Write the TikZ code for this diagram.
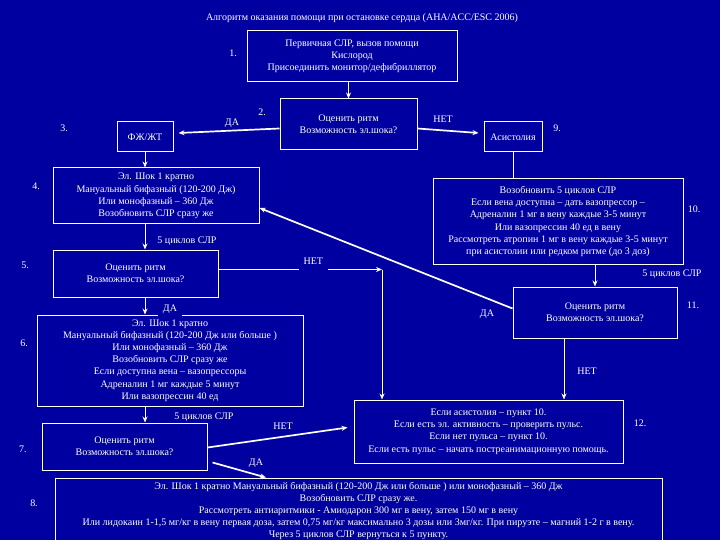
\documentclass[tikz,border=0pt]{standalone}
\usepackage{fontspec}
\setmainfont{Liberation Serif}
\usetikzlibrary{arrows.meta}
\definecolor{bg}{RGB}{0,0,160}
\begin{document}
\begin{tikzpicture}[x=1pt,y=-1pt,
  box/.style={draw=white, line width=1pt, text=white, align=center,
    font=\fontsize{10}{12.2}\selectfont, inner sep=0pt},
  lbl/.style={text=white, font=\fontsize{10}{12}\selectfont, inner sep=1pt},
  arr/.style={draw=white, line width=1pt, -{Stealth[length=6pt,width=5pt]}},
  arrw/.style={arr, line width=1.7pt},
  ln/.style={draw=white, line width=1pt}]
\fill[bg] (0,0) rectangle (720,540);
\useasboundingbox (0,0) rectangle (720,540);

\node[lbl] (title) at (362,18) {Алгоритм оказания помощи при остановке сердца (AHA/ACC/ESC 2006)};

% boxes
\node[box, minimum width=210pt, minimum height=51pt] (b1) at (352,56.5)
  {Первичная СЛР, вызов помощи\\Кислород\\Присоединить монитор/дефибриллятор};
\node[box, minimum width=137pt, minimum height=51pt] (b2) at (348.5,124.5)
  {Оценить ритм\\Возможность эл.шока?};
\node[box, minimum width=56pt, minimum height=30pt] (b3) at (145,137) {ФЖ/ЖТ};
\node[box, minimum width=58pt, minimum height=30pt] (b9) at (513,137) {Асистолия};
\node[box, minimum width=206pt, minimum height=56pt] (b4) at (156,196)
  {Эл. Шок 1 кратно\\Мануальный бифазный (120-200 Дж)\\Или монофазный – 360 Дж\\Возобновить СЛР сразу же};
\node[box, minimum width=250pt, minimum height=85pt] (b10) at (558,221.5)
  {Возобновить 5 циклов СЛР\\Если вена доступна – дать вазопрессор –\\Адреналин 1 мг в вену каждые 3-5 минут\\Или вазопрессин 40 ед в вену\\Рассмотреть атропин 1 мг в вену каждые 3-5 минут\\при асистолии или редком ритме (до 3 доз)};
\node[box, minimum width=165pt, minimum height=47pt] (b5) at (135.5,273.5)
  {Оценить ритм\\Возможность эл.шока?};
\node[box, minimum width=164pt, minimum height=51pt] (b11) at (595,312.5)
  {Оценить ритм\\Возможность эл.шока?};
\node[box, minimum width=266pt, minimum height=91pt] (b6) at (170,360.5)
  {Эл. Шок 1 кратно\\Мануальный бифазный (120-200 Дж или больше )\\Или монофазный – 360 Дж\\Возобновить СЛР сразу же\\Если доступна вена – вазопрессоры\\Адреналин 1 мг каждые 5 минут\\Или вазопрессин 40 ед};
\node[box, minimum width=165pt, minimum height=47pt] (b7) at (124.5,446.5)
  {Оценить ритм\\Возможность эл.шока?};
\node[box, minimum width=269pt, minimum height=63pt] (b12) at (488.5,431.5)
  {Если асистолия – пункт 10.\\Если есть эл. активность – проверить пульс.\\Если нет пульса – пункт 10.\\Если есть пульс – начать постреанимационную помощь.};
\node[box, minimum width=607pt, minimum height=66pt, font=\fontsize{10}{11.8}\selectfont] (b8) at (358.5,511)
  {Эл. Шок 1 кратно Мануальный бифазный (120-200 Дж или больше ) или монофазный – 360 Дж\\Возобновить СЛР сразу же.\\Рассмотреть антиаритмики - Амиодарон 300 мг в вену, затем 150 мг в вену\\Или лидокаин 1-1,5 мг/кг в вену первая доза, затем 0,75 мг/кг максимально 3 дозы или 3мг/кг. При пируэте – магний 1-2 г в вену.\\Через 5 циклов СЛР вернуться к 5 пункту.};

% step numbers
\node[lbl] (n1) at (233,53) {1.};
\node[lbl] (n2) at (262,112) {2.};
\node[lbl] (n3) at (64,128) {3.};
\node[lbl] (n4) at (36,186) {4.};
\node[lbl] (n5) at (25,265) {5.};
\node[lbl] (n6) at (24,343) {6.};
\node[lbl] (n7) at (23,449) {7.};
\node[lbl] (n8) at (34,503) {8.};
\node[lbl] (n9) at (557,128) {9.};
\node[lbl] (n10) at (694,209) {10.};
\node[lbl] (n11) at (693,305) {11.};
\node[lbl] (n12) at (640,423) {12.};

% helper coordinates
\coordinate (cx12) at (564,0);
\coordinate (corner) at (382,269.5);
\coordinate (da8) at (266,0);

% connectors
\draw[arr] (b1.south -| b2.north) -- (b2.north);
\draw[arrw] ([yshift=-4pt]b2.west) -- ([yshift=4pt,xshift=5pt]b3.east);
\node[lbl] (da23) at (232,123) {ДА};
\draw[arrw] ([yshift=-4pt]b2.east) -- ([yshift=4pt,xshift=-5pt]b9.west);
\node[lbl] (net29) at (443,119) {НЕТ};
\draw[arr] (b3.south) -- (b4.north -| b3.south);
\draw[ln] (b9.south) -- (b10.north -| b9.south);
\draw[arr] (b4.south -| b3.south) -- (b5.north -| b3.south);
\node[lbl] (c45) at (187,241) {5 циклов СЛР};
\draw[arr] (b10.south -| b11.north) -- (b11.north);
\node[lbl] (c1011) at (672,274) {5 циклов СЛР};
\draw[arr] ([yshift=4pt]b5.east) -- (corner)
  node[lbl, pos=0.58, fill=bg, inner sep=5pt, yshift=8pt] (net5) {НЕТ};
\draw[arr] (corner) -- (b12.north -| corner);
\draw[arr] (b5.south -| b3.south) -- (b6.north -| b3.south);
\node[lbl, fill=bg, inner sep=5pt] (da56) at (170,309) {ДА};
\draw[arrw] ([yshift=4pt]b11.west) -- ([yshift=-12pt]b4.east);
\node[lbl] (da114) at (487,314) {ДА};
\draw[arr] (b11.south -| cx12) -- (b12.north -| cx12);
\node[lbl] (net1112) at (587,371) {НЕТ};
\draw[arr] (b6.south -| b3.south) -- (b7.north -| b3.south);
\node[lbl] (c67) at (204,417) {5 циклов СЛР};
\draw[arrw] ([yshift=-1pt]b7.east) -- ([xshift=-6pt,yshift=4pt]b12.west);
\node[lbl] (net712) at (283,426) {НЕТ};
\draw[arrw] ([xshift=5pt,yshift=-16pt]b7.east) -- (b8.north -| da8);
\node[lbl] (da78) at (256,463) {ДА};
\end{tikzpicture}
\end{document}
